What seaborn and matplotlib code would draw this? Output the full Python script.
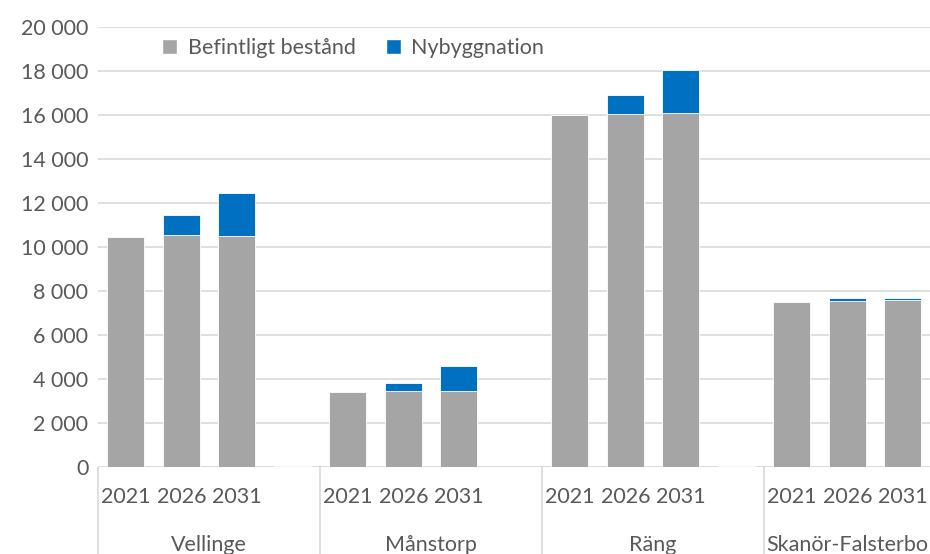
import matplotlib
matplotlib.use("Agg")
import matplotlib.pyplot as plt
import matplotlib.transforms as mtransforms
from matplotlib.patches import Patch
import pandas as pd
import seaborn as sns

# Värden (antal invånare)
GROUPS = ["Vellinge", "Månstorp", "Räng", "Skanör-Falsterbo"]
YEARS = ["2021", "2026", "2031"]
BEFINTLIGT = [
    [10450, 10550, 10500],
    [3420, 3450, 3450],
    [16010, 16060, 16100],
    [7480, 7560, 7590],
]
NYBYGGNATION = [
    [0, 920, 1950],
    [0, 370, 1130],
    [0, 840, 1930],
    [0, 110, 110],
]
# tom kolumn efter varje grupp (i originalet en nästan osynlig stapel)
GAP_VALUES = [30, 0, 30, 0]

GREY = "#A5A5A5"
BLUE = "#0070C0"
TEXT = "#595959"
GRID = "#D9D9D9"

rows = []
for g, group in enumerate(GROUPS):
    for y, year in enumerate(YEARS):
        bef = BEFINTLIGT[g][y]
        rows.append({"slot": f"{group} {year}", "befintligt": bef,
                     "total": bef + NYBYGGNATION[g][y]})
    rows.append({"slot": f"{group} gap", "befintligt": GAP_VALUES[g],
                 "total": GAP_VALUES[g]})
df = pd.DataFrame(rows)
order = list(df["slot"])

sns.set_style("white")
plt.rcParams["font.family"] = ["Lato", "DejaVu Sans"]
FS = 15.5

fig = plt.figure(figsize=(9.3, 5.54), dpi=100)
ax = fig.add_axes([98 / 930, 87 / 554, 888 / 930, 440 / 554])

# staplad stapel: total i blått, befintligt i grått ovanpå
sns.barplot(data=df, x="slot", y="total", order=order, color=BLUE, width=0.67,
            edgecolor="white", linewidth=0.6, ax=ax, saturation=1)
sns.barplot(data=df, x="slot", y="befintligt", order=order, color=GREY, width=0.67,
            edgecolor="white", linewidth=0.6, ax=ax, saturation=1)

ax.set_xlim(-0.5, len(order) - 0.5)
ax.set_ylim(0, 20000)
ax.set_yticks(range(0, 20001, 2000))
ax.set_yticklabels([f"{v:,}".replace(",", " ") for v in range(0, 20001, 2000)])
ax.tick_params(axis="y", length=0, pad=7, labelsize=FS, labelcolor=TEXT)
ax.set_xticks([])
ax.set_xlabel("")
ax.set_ylabel("")
ax.yaxis.grid(True, color=GRID, linewidth=1.2)
ax.set_axisbelow(True)
for s in ax.spines.values():
    s.set_visible(False)
ax.axhline(0, color=GRID, linewidth=1.2, zorder=0.5)

# tvånivåers x-axel
trans = mtransforms.blended_transform_factory(ax.transData, ax.transAxes)
n = len(YEARS) + 1
for g, group in enumerate(GROUPS):
    start = g * n
    for y, year in enumerate(YEARS):
        ax.text(start + y, -0.068, year, transform=trans, ha="center", va="center",
                fontsize=FS, color=TEXT)
    ax.plot([start - 0.5, start - 0.5], [0, -0.25], transform=trans, color=GRID,
            linewidth=1.2, clip_on=False)
    # sista gruppens namn är förskjutet så att det ryms i bilden
    xc = start + (n - 1) / 2 if g < len(GROUPS) - 1 else start + 1.0
    ax.text(xc, -0.177, group, transform=trans, ha="center",
            va="center", fontsize=FS, color=TEXT)

handles = [Patch(facecolor=GREY, label="Befintligt bestånd"),
           Patch(facecolor=BLUE, label="Nybyggnation")]
leg = ax.legend(handles=handles, loc="center left", bbox_to_anchor=(0.05, 0.952),
                ncol=2, frameon=False, fontsize=FS, handlelength=0.7, handleheight=0.7,
                handletextpad=0.5, columnspacing=1.4, labelcolor=TEXT)

fig.savefig("out.png", dpi=100)
